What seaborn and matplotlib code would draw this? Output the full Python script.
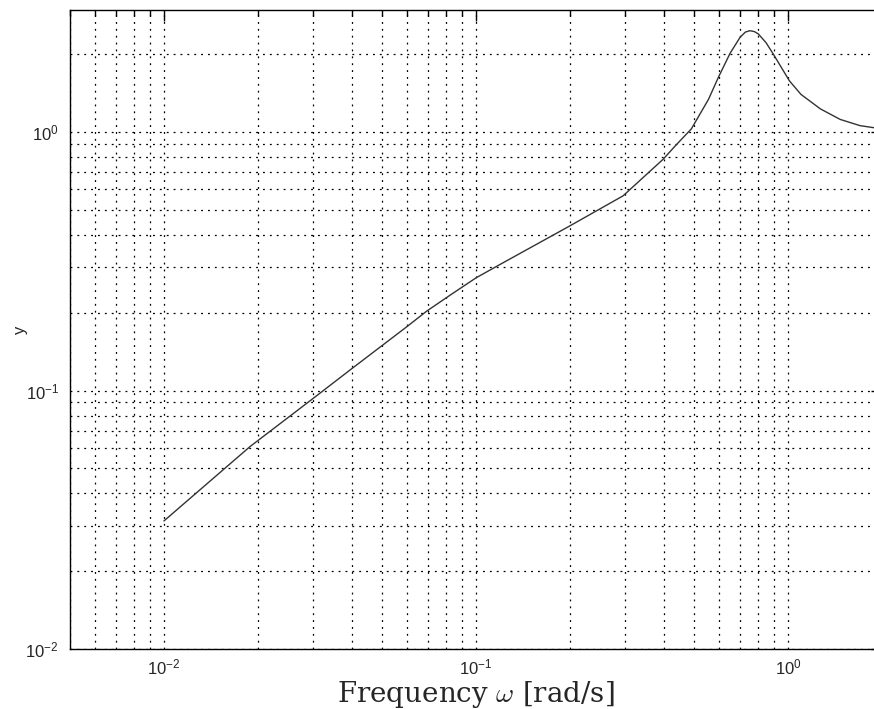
import numpy as np
import pandas as pd
import matplotlib
matplotlib.use("Agg")
import matplotlib.pyplot as plt
import matplotlib.ticker as mticker
import seaborn as sns

# ---- data ----
freq = [0.01, 0.0189, 0.0297, 0.04, 0.06, 0.0695, 0.0826, 0.1, 0.119, 0.2,
        0.296, 0.398, 0.435, 0.49, 0.522, 0.556, 0.598, 0.652, 0.702, 0.73,
        0.755, 0.78, 0.803, 0.85, 0.898, 1.01, 1.1, 1.27, 1.47, 1.7, 1.89, 2.0]
mag = [0.0313, 0.0608, 0.0922, 0.1216, 0.1766, 0.203, 0.234, 0.273, 0.307, 0.434,
       0.567, 0.786, 0.885, 1.03, 1.175, 1.34, 1.63, 2.02, 2.33, 2.44,
       2.47, 2.45, 2.40, 2.22, 2.0, 1.58, 1.40, 1.23, 1.12, 1.06, 1.04, 1.03]
ylabel = "y"

df = pd.DataFrame({"w": freq, "y": mag})

sns.set_style("white")
plt.rcParams["font.family"] = ["Liberation Sans", "DejaVu Sans"]
plt.rcParams["mathtext.fontset"] = "custom"
plt.rcParams["mathtext.rm"] = "Liberation Sans"
plt.rcParams["mathtext.it"] = "Liberation Sans:italic"

fig = plt.figure(figsize=(8.74, 7.09), dpi=100)
ax = fig.add_axes([70 / 874, 60 / 709, (882 - 70) / 874, (649 - 10) / 709])

sns.lineplot(data=df, x="w", y="y", ax=ax, color="#333333", linewidth=1.0,
             estimator=None, sort=False)

ax.set_xscale("log")
ax.set_yscale("log")
ax.set_xlim(0.005, 2.0)
ax.set_ylim(0.01, 2.97)

ax.xaxis.set_major_locator(mticker.LogLocator(base=10, numticks=10))
ax.yaxis.set_major_locator(mticker.LogLocator(base=10, numticks=10))
ax.xaxis.set_minor_locator(mticker.LogLocator(base=10, subs=np.arange(2, 10), numticks=20))
ax.yaxis.set_minor_locator(mticker.LogLocator(base=10, subs=np.arange(2, 10), numticks=20))
ax.xaxis.set_minor_formatter(mticker.NullFormatter())
ax.yaxis.set_minor_formatter(mticker.NullFormatter())

ax.grid(True, which="both", linestyle=(0, (1.5, 4)), color="black", linewidth=0.9)
ax.set_axisbelow(True)

ax.tick_params(which="both", direction="in", top=True, right=True,
               color="black", width=1.0)
ax.tick_params(which="major", length=8, labelsize=12)
ax.tick_params(axis="x", which="major", pad=6)
ax.tick_params(axis="y", which="major", pad=8)
ax.tick_params(which="minor", length=4)

for s in ax.spines.values():
    s.set_color("black")
    s.set_linewidth(1.0)

ax.set_xlabel(r"Frequency $\omega$ [rad/s]", fontsize=20, family="DejaVu Serif",
              math_fontfamily="cm")
ax.xaxis.set_label_coords(0.5, (649 - 679) / 639)
ax.set_ylabel(ylabel, fontsize=12)
ax.yaxis.set_label_coords((28 - 70) / 812, 0.5)

fig.savefig("out.png", dpi=100)
